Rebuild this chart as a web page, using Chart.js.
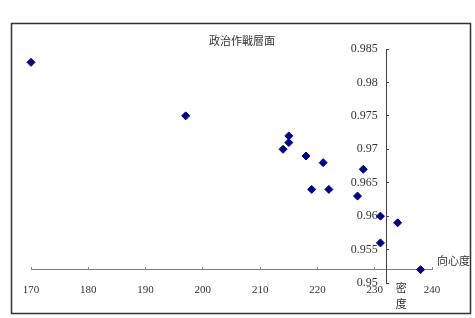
<!DOCTYPE html>
<html>
<head>
<meta charset="utf-8">
<script src="https://cdn.jsdelivr.net/npm/chart.js@4/dist/chart.umd.min.js"></script>
<style>
  html, body { margin: 0; padding: 0; background: #fff; }
  canvas { display: block; }
</style>
</head>
<body>
<canvas id="chart" width="475" height="318"></canvas>
<script>
// 政治作戰層面 scatter: 向心度 vs 密度
const chartTitle = '政治作戰層面';
const xTitle = '向心度';
const yTitle = ['密', '度'];

const cohesion = [170, 197, 214, 215, 215, 218, 221, 219, 222, 228, 227, 231, 234, 231, 238];
const density = [0.983, 0.975, 0.970, 0.972, 0.971, 0.969, 0.968, 0.964, 0.964, 0.967, 0.963, 0.960, 0.959, 0.956, 0.952];

const xTicks = [170, 180, 190, 200, 210, 220, 230, 240];
const yTicks = [0.95, 0.955, 0.96, 0.965, 0.97, 0.975, 0.98, 0.985];

const xCross = 232;    // y axis sits at this x value
const yCross = 0.952;  // x axis sits at this y value

const serif = "'Liberation Serif', 'DejaVu Serif', serif";
const cjk = "'Noto Sans CJK TC', 'Noto Sans CJK SC', sans-serif";

const frameAndLabels = {
    id: 'frameAndLabels',
    beforeDraw(chart) {
        const ctx = chart.ctx;
        ctx.save();
        ctx.fillStyle = '#fff';
        ctx.fillRect(0, 0, chart.width, chart.height);
        ctx.strokeStyle = '#333';
        ctx.lineWidth = 1.5;
        ctx.strokeRect(11.5, 23.5, 459, 290);
        ctx.restore();
    },
    afterDraw(chart) {
        const ctx = chart.ctx;
        const xs = chart.scales.x;
        const ys = chart.scales.y;
        const axisY = ys.getPixelForValue(yCross);
        const axisX = xs.getPixelForValue(xCross);
        ctx.save();
        ctx.fillStyle = '#333';
        ctx.font = '11px ' + cjk;
        ctx.textBaseline = 'middle';
        ctx.textAlign = 'center';
        ctx.fillText(chartTitle, 242, 41);
        ctx.textAlign = 'left';
        ctx.fillText(xTitle, xs.right + 5, axisY - 9);
        ctx.textAlign = 'center';
        yTitle.forEach((ch, i) => ctx.fillText(ch, axisX + 15, axisY + 18 + i * 16));
        ctx.restore();
    }
};

new Chart(document.getElementById('chart').getContext('2d'), {
    type: 'scatter',
    data: {
        datasets: [{
            data: cohesion.map((x, i) => ({ x: x, y: density[i] })),
            pointStyle: 'rectRot',
            pointRadius: 4,
            pointBorderWidth: 1,
            backgroundColor: '#000080',
            borderColor: '#000080',
            clip: false
        }]
    },
    options: {
        responsive: false,
        animation: false,
        layout: { padding: { left: 31, right: 43, top: 49, bottom: 35 } },
        plugins: {
            legend: { display: false },
            title: { display: false },
            tooltip: { enabled: false }
        },
        scales: {
            x: {
                type: 'linear',
                min: 170,
                max: 240,
                position: { y: yCross },
                afterFit: s => { s.height = 0; },
                afterBuildTicks: s => { s.ticks = xTicks.map(v => ({ value: v })); },
                grid: { drawOnChartArea: false, tickLength: -3, color: '#808080' },
                border: { color: '#808080', width: 1 },
                ticks: { padding: 17, color: '#333', font: { family: serif, size: 11 }, maxRotation: 0 }
            },
            y: {
                type: 'linear',
                min: 0.95,
                max: 0.985,
                position: { x: xCross },
                afterFit: s => { s.width = 0; },
                afterBuildTicks: s => { s.ticks = yTicks.map(v => ({ value: v })); },
                grid: { drawOnChartArea: false, tickLength: -3, color: '#404040' },
                border: { color: '#404040', width: 1 },
                ticks: {
                    padding: 0,
                    color: '#333',
                    font: { family: serif, size: 12 },
                    // trailing spaces keep the labels clear of the crossing axis
                    callback: v => String(Number(v.toFixed(3))) + '\u2002\u2009'
                }
            }
        }
    },
    plugins: [frameAndLabels]
});
</script>
</body>
</html>
